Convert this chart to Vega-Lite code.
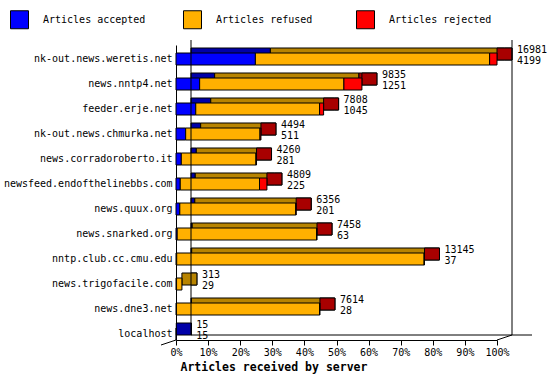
{
  "$schema": "https://vega.github.io/schema/vega-lite/v6.json",
  "autosize": {"type": "none"},
  "width": 321,
  "height": 295,
  "padding": {"left": 176, "top": 45, "right": 53, "bottom": 40},
  "background": "white",
  "config": {
    "view": {"stroke": null},
    "font": "DejaVu Sans Mono",
    "axis": {"labelOverlap": false, "labelFlush": false, "labelColor": "black", "labelFont": "DejaVu Sans Mono", "labelFontSize": 10, "domainColor": "black", "tickColor": "black", "titleColor": "black"},
    "legend": {
      "orient": "none", "legendX": -166, "legendY": -35, "direction": "horizontal",
      "gridAlign": "all", "columnPadding": 35, "padding": 0,
      "symbolType": "square", "symbolSize": 324, "symbolStrokeColor": "black", "symbolStrokeWidth": 1,
      "labelFont": "DejaVu Sans Mono", "labelFontSize": 10, "labelColor": "black", "labelOffset": 14
    }
  },
  "data": {
    "values": [
      {"server": "nk-out.news.weretis.net", "total": 16981, "accepted": 4199, "refused": 12392, "rejected": 390},
      {"server": "news.nntp4.net", "total": 9835, "accepted": 1251, "refused": 7632, "rejected": 952},
      {"server": "feeder.erje.net", "total": 7808, "accepted": 1045, "refused": 6551, "rejected": 212},
      {"server": "nk-out.news.chmurka.net", "total": 4494, "accepted": 511, "refused": 3933, "rejected": 50},
      {"server": "news.corradoroberto.it", "total": 4260, "accepted": 281, "refused": 3949, "rejected": 30},
      {"server": "newsfeed.endofthelinebbs.com", "total": 4809, "accepted": 225, "refused": 4193, "rejected": 391},
      {"server": "news.quux.org", "total": 6356, "accepted": 201, "refused": 6135, "rejected": 20},
      {"server": "news.snarked.org", "total": 7458, "accepted": 63, "refused": 7375, "rejected": 20},
      {"server": "nntp.club.cc.cmu.edu", "total": 13145, "accepted": 37, "refused": 13088, "rejected": 20},
      {"server": "news.trigofacile.com", "total": 313, "accepted": 29, "refused": 284, "rejected": 0},
      {"server": "news.dne3.net", "total": 7614, "accepted": 28, "refused": 7566, "rejected": 20},
      {"server": "localhost", "total": 15, "accepted": 15, "refused": 0, "rejected": 0}
    ]
  },
  "encoding": {
    "y": {
      "field": "server", "type": "nominal", "sort": null,
      "scale": {"paddingInner": 0.52, "paddingOuter": 0.16, "align": 1},
      "axis": {"title": null, "ticks": false, "domain": true, "labelPadding": 4, "labelLimit": 300}
    }
  },
  "layer": [
    {
      "transform": [
        {"fold": ["accepted", "refused", "rejected"], "as": ["part", "amount"]},
        {"filter": "datum.amount > 0"}
      ],
      "mark": {"type": "bar", "xOffset": 15, "x2Offset": 15, "yOffset": -5, "stroke": "black", "strokeWidth": 1},
      "encoding": {
        "x": {
          "field": "amount", "type": "quantitative", "stack": "zero",
          "scale": {"domain": [0, 16981], "nice": false},
          "axis": {
            "values": [0, 1698.1, 3396.2, 5094.3, 6792.4, 8490.5, 10188.6, 11886.7, 13584.8, 15282.9, 16981],
            "tickCount": 30,
            "labelExpr": "format(datum.value / 16981, '.0%')",
            "labelOverlap": false, "labelFlush": false,
            "grid": false, "tickSize": 5, "labelPadding": 2,
            "title": "Articles received by server", "titleFont": "DejaVu Sans Mono", "titleFontWeight": "bold", "titleFontSize": 11.5,
            "titleAnchor": "start", "titleX": 4, "titleAlign": "left", "titlePadding": 4
          }
        },
        "order": {"field": "part"},
        "fill": {"condition": [{"test": "datum.part === 'accepted'", "value": "#0000a8"}, {"test": "datum.part === 'refused'", "value": "#b88400"}], "value": "#a80000"}
      }
    },
    {
      "mark": {"type": "bar", "x2Offset": 15, "yOffset": -5, "stroke": "black", "strokeWidth": 1},
      "encoding": {
        "x": {"field": "total", "type": "quantitative"},
        "x2": {"field": "total"},
        "fill": {"condition": [{"test": "datum.rejected > 0", "value": "#a80000"}, {"test": "datum.refused > 0", "value": "#b88400"}], "value": "#0000a8"}
      }
    },
    {
      "transform": [
        {"fold": ["accepted", "refused", "rejected"], "as": ["category", "count"]},
        {"filter": "datum.count > 0"}
      ],
      "mark": {"type": "bar", "stroke": "black", "strokeWidth": 1},
      "encoding": {
        "x": {"field": "count", "type": "quantitative", "stack": "zero"},
        "order": {"field": "category"},
        "color": {
          "field": "category", "type": "nominal",
          "scale": {"domain": ["accepted", "refused", "rejected"], "range": ["#0000ff", "#ffb000", "#ff0000"]},
          "legend": {"title": null, "labelExpr": "'Articles ' + datum.label", "orient": "none", "legendX": -166, "legendY": -35, "direction": "horizontal"}
        }
      }
    },
    {
      "mark": {"type": "text", "align": "left", "baseline": "middle", "xOffset": 20, "yOffset": -9, "font": "DejaVu Sans Mono", "fontSize": 10, "color": "black"},
      "encoding": {
        "x": {"field": "total", "type": "quantitative"},
        "text": {"field": "total", "type": "quantitative", "format": "d"}
      }
    },
    {
      "mark": {"type": "text", "align": "left", "baseline": "middle", "xOffset": 20, "yOffset": 2, "font": "DejaVu Sans Mono", "fontSize": 10, "color": "black"},
      "encoding": {
        "x": {"field": "total", "type": "quantitative"},
        "text": {"field": "accepted", "type": "quantitative", "format": "d"}
      }
    },
    {
      "data": {"values": [{"pos": 0}, {"pos": 16981}]},
      "mark": {"type": "rule", "color": "black", "strokeWidth": 1, "xOffset": 15, "yOffset": -5, "y2Offset": -5},
      "encoding": {
        "x": {"field": "pos", "type": "quantitative"},
        "y": {"value": 0},
        "y2": {"value": "height"}
      }
    },
    {
      "data": {"values": [{"a": 0, "b": 16981}]},
      "mark": {"type": "rule", "color": "black", "strokeWidth": 1, "xOffset": 15, "x2Offset": 35, "yOffset": -5, "y2Offset": -5},
      "encoding": {
        "x": {"field": "a", "type": "quantitative"},
        "x2": {"field": "b"},
        "y": {"value": "height"},
        "y2": {"value": "height"}
      }
    },
    {
      "data": {"values": [{"a": 0}]},
      "mark": {"type": "rule", "color": "black", "strokeWidth": 1, "xOffset": -15, "yOffset": 5},
      "encoding": {
        "x": {"field": "a", "type": "quantitative"},
        "x2": {"field": "a"},
        "y": {"value": "height"},
        "y2": {"value": "height"}
      }
    },
    {
      "data": {"values": [{"a": 16981}]},
      "mark": {"type": "rule", "color": "black", "strokeWidth": 1, "x2Offset": 15, "y2Offset": -5},
      "encoding": {
        "x": {"field": "a", "type": "quantitative"},
        "x2": {"field": "a"},
        "y": {"value": "height"},
        "y2": {"value": "height"}
      }
    }
  ]
}
